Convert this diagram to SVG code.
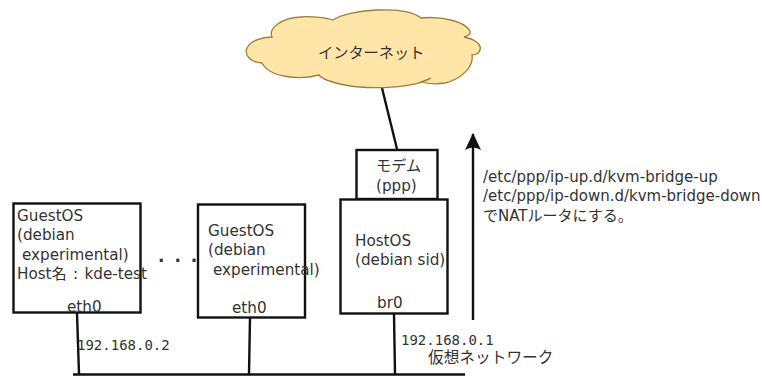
<svg xmlns="http://www.w3.org/2000/svg" width="762" height="376" viewBox="0 0 762 376">
<defs>
<style>
text{font-family:"DejaVu Sans","Noto Sans CJK JP",sans-serif;font-size:15.2px;fill:#333}
.m{font-family:"DejaVu Sans Mono","Noto Sans CJK JP",monospace;font-size:14px}
.p{font-size:15px}
.box{fill:#fff;stroke:#111;stroke-width:2.4}
.ln{fill:none;stroke:#111;stroke-width:2.4}
</style>
<marker id="ah" markerUnits="userSpaceOnUse" markerWidth="18" markerHeight="18" refX="16" refY="8" orient="auto" viewBox="0 0 18 16"><path d="M17 8L0 16Q5 8 0 0Z" fill="#111"/></marker>
</defs>
<rect width="762" height="376" fill="#fff"/>
<g id="connectors">
<path class="ln" d="M382 88L397 149"/>
<path class="ln" d="M77 313L79 374"/>
<path class="ln" d="M250 318L249 374"/>
<path class="ln" d="M394 314L395 374"/>
<path class="ln" d="M73 374.500L465 374.500"/>
<path class="ln" d="M473 320V134" marker-end="url(#ah)"/>
</g>
<g id="internet">
<path d="M333 20C350 9 405 5 421 18C440 16 465 21 470 31C471 34 468 36 464 37C474 39 482 44 480 50C479 54 474 55 472 55C474 66 462 79 445 83C438 84 428 84 421 82L431 78C415 88 370 90 345 85C330 82 322 79 319 75C300 80 270 78 262 63C250 62 244 55 247 48C250 41 262 37 272 37C268 28 282 18 300 17C312 16 328 18 333 20Z" fill="#ffe6a8" stroke="#9c7f38" stroke-width="1.300"/>
<text x="318" y="58" font-size="15">インターネット</text>
</g>
<g id="modem">
<rect class="box" x="356.500" y="150" width="81" height="49"/>
<text x="376" y="171">モデム</text>
<text x="376" y="191">(ppp)</text>
</g>
<g id="hostos">
<rect class="box" x="340.500" y="199.500" width="107" height="114"/>
<text x="355" y="246">HostOS</text>
<text x="355" y="265">(debian sid)</text>
<text x="377" y="308">br0</text>
</g>
<g id="guest1">
<rect class="box" x="13.500" y="203.500" width="127" height="109"/>
<text x="17" y="221">GuestOS</text>
<text x="17" y="240">(debian</text>
<text x="22" y="260">experimental)</text>
<text x="17" y="279" word-spacing="1.500">Host名 : kde-test</text>
<text x="67" y="312">eth0</text>
</g>
<g id="guest2">
<rect class="box" x="198" y="204.500" width="107" height="113"/>
<text x="208" y="236">GuestOS</text>
<text x="208" y="255">(debian</text>
<text x="213" y="275">experimental)</text>
<text x="232" y="313">eth0</text>
</g>
<text x="158" y="262" style="font-size:17px;font-weight:bold" letter-spacing="2">. . .</text>
<text class="m" x="77" y="350">192.168.0.2</text>
<text class="m" x="401" y="345">192.168.0.1</text>
<text x="428" y="363" style="font-size:15.700px">仮想ネットワーク</text>
<text class="p" x="483" y="182">/etc/ppp/ip-up.d/kvm-bridge-up</text>
<text class="p" x="483" y="201">/etc/ppp/ip-down.d/kvm-bridge-down</text>
<text class="p" x="483" y="221">でNATルータにする。</text>
</svg>
